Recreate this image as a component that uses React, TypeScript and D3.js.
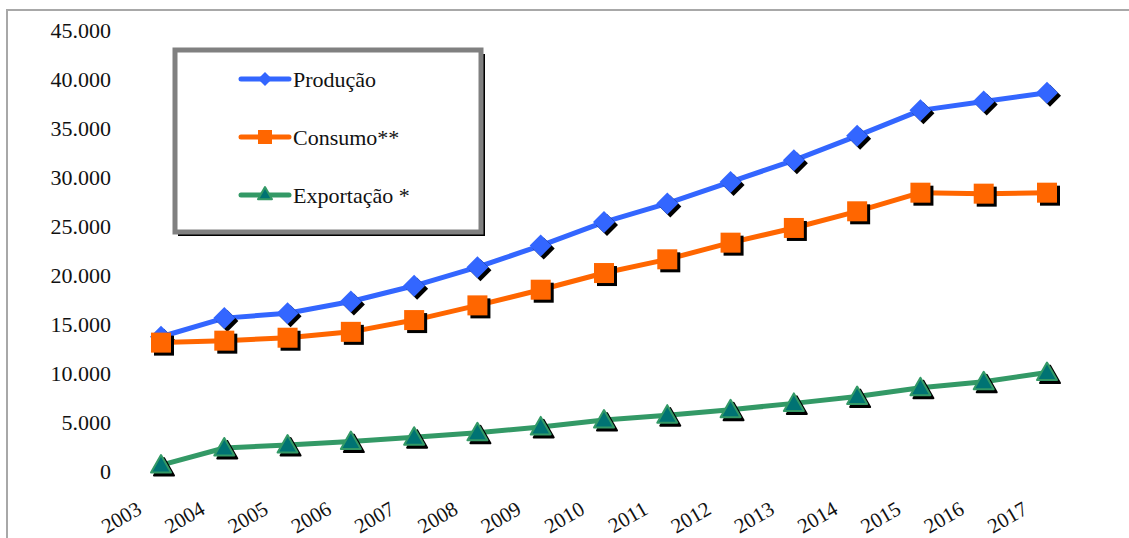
import React from "react";
import * as d3 from "d3";

// dados (mil t)
const years = [2003, 2004, 2005, 2006, 2007, 2008, 2009, 2010, 2011, 2012, 2013, 2014, 2015, 2016, 2017];
const producao = [13700, 15600, 16100, 17300, 18900, 20800, 23000, 25400, 27300, 29500, 31700, 34200, 36800, 37700, 38600];
const consumo = [13100, 13300, 13600, 14200, 15400, 16900, 18500, 20200, 21600, 23300, 24800, 26500, 28400, 28300, 28400];
const exportacao = [600, 2350, 2650, 3000, 3450, 3900, 4500, 5200, 5700, 6250, 6900, 7600, 8500, 9100, 10050];
const yTicks = [0, 5000, 10000, 15000, 20000, 25000, 30000, 35000, 40000, 45000];
const seriesNames = ["Produção", "Consumo**", "Exportação *"];

const W = 1129;
const H = 538;
const FONT = "Liberation Serif, Times New Roman, DejaVu Serif, serif";

const ptBR = d3.formatLocale({ decimal: ",", thousands: ".", grouping: [3], currency: ["", ""] });
const fmt = ptBR.format(",");

type Kind = "diamond" | "square" | "triangle";

function Marker(props: { kind: Kind; x: number; y: number; size: number; shadow?: boolean }) {
  const { kind, x, y, size, shadow } = props;
  const s = size;
  let shape = (dx: number, dy: number, fill: string, stroke?: string) => null as any;
  if (kind === "diamond") {
    shape = (dx, dy, fill) => (
      <path d={`M${x + dx},${y + dy - s} L${x + dx + s},${y + dy} L${x + dx},${y + dy + s} L${x + dx - s},${y + dy} Z`} fill={fill} />
    );
  } else if (kind === "square") {
    shape = (dx, dy, fill) => <rect x={x + dx - s} y={y + dy - s} width={2 * s} height={2 * s} fill={fill} />;
  } else {
    shape = (dx, dy, fill, stroke) => (
      <path
        d={`M${x + dx},${y + dy - s} L${x + dx + s},${y + dy + s * 0.75} L${x + dx - s},${y + dy + s * 0.75} Z`}
        fill={fill}
        stroke={stroke}
        strokeWidth={stroke ? 2 : 0}
        strokeLinejoin="round"
      />
    );
  }
  return (
    <g>
      {shadow && shape(3, 3, "#000", kind === "triangle" ? "#000" : undefined)}
      {shape(0, 0, kind === "diamond" ? "#3366ff" : kind === "square" ? "#ff6600" : "#007373", kind === "triangle" ? "#339966" : undefined)}
    </g>
  );
}

export default function App() {
  const x = d3.scaleLinear().domain([2003, 2017]).range([161, 1047]);
  const y = d3.scaleLinear().domain([0, 45000]).range([471, 30]);

  const series = [
    { name: seriesNames[0], values: producao, color: "#3366ff", kind: "diamond" as Kind, size: 11 },
    { name: seriesNames[1], values: consumo, color: "#ff6600", kind: "square" as Kind, size: 10 },
    { name: seriesNames[2], values: exportacao, color: "#339966", kind: "triangle" as Kind, size: 10 },
  ];

  const line = d3
    .line<number>()
    .x((d, i) => x(years[i]))
    .y(d => y(d));

  const legendX = 241;
  const legendY = [79, 137, 195];
  const legendSizes = [7, 7, 7];
  const txt: React.CSSProperties = { fontFamily: FONT };

  return (
    <svg width={W} height={H} style={{ position: "absolute", left: 0, top: 0, background: "#fff" }}>
      <rect x={0} y={0} width={W} height={H} fill="#fff" />
      {/* moldura externa */}
      <path d={`M7,${H} L7,10 L${W},10`} fill="none" stroke="#a8a8a8" strokeWidth={2} />

      {/* eixo y */}
      {yTicks.map(t => (
        <text key={t} x={111} y={y(t)} dy="0.35em" textAnchor="end" style={{ ...txt, fontSize: 22 }} fill="#111">
          {fmt(t)}
        </text>
      ))}

      {/* eixo x */}
      {years.map(yr => (
        <text
          key={yr}
          x={x(yr) - 18}
          y={513}
          textAnchor="end"
          style={{ ...txt, fontSize: 21 }}
          fill="#111"
          transform={`rotate(-30 ${x(yr) - 18} 513)`}
        >
          {yr}
        </text>
      ))}

      {/* séries */}
      {series.map(s => (
        <g key={s.name}>
          <path d={line(s.values) || ""} fill="none" stroke={s.color} strokeWidth={5} strokeLinejoin="round" />
          {s.values.map((v, i) => (
            <Marker key={i} kind={s.kind} x={x(years[i])} y={y(v)} size={s.size} shadow />
          ))}
        </g>
      ))}

      {/* legenda */}
      <rect x={178} y={54} width={307} height={182} fill="#000" />
      <rect x={175} y={50} width={306} height={182} fill="#fff" stroke="#808080" strokeWidth={5} />
      {series.map((s, i) => (
        <g key={s.name}>
          <line x1={legendX} x2={legendX + 48} y1={legendY[i]} y2={legendY[i]} stroke={s.color} strokeWidth={5} strokeLinecap="round" />
          <Marker kind={s.kind} x={legendX + 24} y={legendY[i] + (s.kind === "triangle" ? -1 : 0)} size={legendSizes[i]} />
          <text x={293} y={legendY[i]} dy="0.35em" style={{ ...txt, fontSize: 22 }} fill="#111">
            {s.name}
          </text>
        </g>
      ))}
    </svg>
  );
}
